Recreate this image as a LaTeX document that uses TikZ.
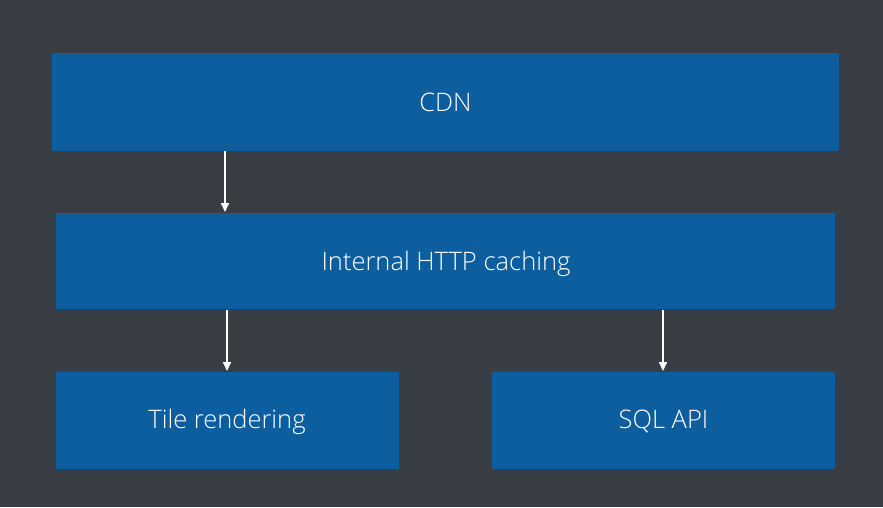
\documentclass[tikz,border=0pt]{standalone}
\usepackage{fontspec}
\setmainfont{Open Sans}[UprightFont=* Light]
\usetikzlibrary{arrows.meta}
\definecolor{bg}{HTML}{393E44}
\definecolor{boxblue}{HTML}{0D5E9E}
\begin{document}
\begin{tikzpicture}[x=1pt,y=-1pt,
  lbl/.style={text=white,anchor=base,inner sep=0pt,font=\fontsize{25.5}{29}\selectfont},
  arr/.style={draw=white,line width=1.8pt,-{Triangle[width=8pt,length=9pt]}}]
\fill[bg] (0,0) rectangle (883,507);
\useasboundingbox (0,0) rectangle (883,507);
\fill[boxblue] (52,53) rectangle (839,151);
\node[lbl] (cdn) at (445.5,111.5) {CDN};
\fill[boxblue] (56,213) rectangle (835,309);
\node[lbl] (http) at (446,270) {Internal HTTP caching};
\fill[boxblue] (56,372) rectangle (399,469);
\node[lbl] (tile) at (227,428.5) {Tile rendering};
\fill[boxblue] (492,372) rectangle (835,469);
\node[lbl] (sql) at (663.5,428.5) {SQL API};
\coordinate (a1) at (225,151); \coordinate (b1) at (225,212);
\coordinate (a2) at (227,310); \coordinate (b2) at (227,371);
\coordinate (a3) at (663,310); \coordinate (b3) at (663,371);
\draw[arr] (a1) -- (b1);
\draw[arr] (a2) -- (b2);
\draw[arr] (a3) -- (b3);
\end{tikzpicture}
\end{document}
